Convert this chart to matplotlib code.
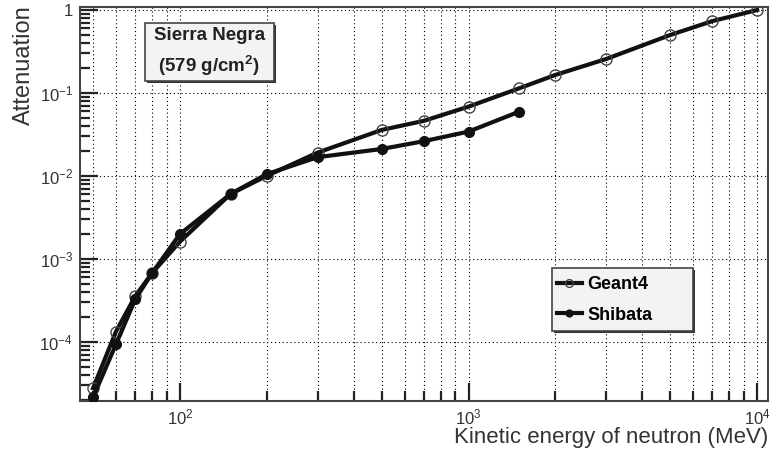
import matplotlib.pyplot as plt
from matplotlib.patches import Rectangle
from matplotlib.ticker import LogLocator, NullFormatter, FixedLocator

plt.rcParams['font.family'] = ['Liberation Sans', 'DejaVu Sans']
plt.rcParams['mathtext.fontset'] = 'custom'
plt.rcParams['mathtext.rm'] = 'Liberation Sans'
plt.rcParams['mathtext.bf'] = 'Liberation Sans:bold'
plt.rcParams['mathtext.default'] = 'regular'

# energia (MeV) y atenuacion
geant4_e = [50, 60, 70, 80, 100, 150, 200, 300, 500, 700, 1000, 1500, 2000, 3000, 5000, 7000, 10000]
geant4_att = [2.75e-5, 1.32e-4, 3.55e-4, 6.7e-4, 1.61e-3, 6.07e-3, 1.0e-2, 1.91e-2, 3.58e-2, 4.61e-2,
              6.84e-2, 0.114, 0.165, 0.257, 0.50, 0.736, 1.0]

shibata_e = [50, 60, 70, 80, 100, 150, 200, 300, 500, 700, 1000, 1500]
shibata_att = [2.13e-5, 9.3e-5, 3.24e-4, 6.7e-4, 1.99e-3, 6.07e-3, 1.05e-2, 1.68e-2, 2.11e-2, 2.62e-2,
               3.42e-2, 5.96e-2]

fig = plt.figure(figsize=(7.78, 4.55), dpi=100)
ax = fig.add_axes([0.1028, 0.1187, 0.8842, 0.8659])

ax.plot(geant4_e, geant4_att, color='#111111', lw=3, marker='o', ms=8,
        mfc='none', mec='#444444', mew=1.0, label='Geant4', zorder=3)
ax.plot(shibata_e, shibata_att, color='#111111', lw=3, marker='o', ms=7,
        mfc='#111111', mec='#111111', label='Shibata', zorder=4)

ax.set_xscale('log')
ax.set_yscale('log')
ax.set_xlim(45.05, 10890)
ax.set_ylim(1.93e-5, 1.087)

# rejilla: x en todas las marcas, y solo en las decadas
xgrid = [m * 10 ** d for d in range(1, 5) for m in range(1, 10)]
xgrid = [v for v in xgrid if 45 < v < 10890]
for v in xgrid:
    ax.axvline(v, color='black', lw=0.8, ls=(0, (1, 2.5)), zorder=1)
for v in [1e-4, 1e-3, 1e-2, 1e-1, 1]:
    ax.axhline(v, color='black', lw=0.8, ls=(0, (1, 2.5)), zorder=1)

ax.yaxis.set_major_locator(FixedLocator([1e-4, 1e-3, 1e-2, 1e-1, 1]))
ax.set_yticklabels([r'$10^{-4}$', r'$10^{-3}$', r'$10^{-2}$', r'$10^{-1}$', '1'])
ax.yaxis.set_minor_locator(LogLocator(base=10, subs=range(2, 10), numticks=20))
ax.yaxis.set_minor_formatter(NullFormatter())
ax.xaxis.set_major_locator(FixedLocator([100, 1000, 10000]))
ax.set_xticklabels([r'$10^{2}$', r'$10^{3}$', r'$10^{4}$'])
ax.xaxis.set_minor_locator(LogLocator(base=10, subs=range(2, 10), numticks=20))
ax.xaxis.set_minor_formatter(NullFormatter())

ax.tick_params(which='both', direction='in', color='#222222', width=1.6, labelsize=12,
               labelcolor='#333333')
ax.tick_params(which='major', length=13)
ax.tick_params(which='minor', length=7)
ax.tick_params(axis='x', pad=5)
ax.tick_params(axis='y', pad=5)
for s in ax.spines.values():
    s.set_linewidth(1.5)
    s.set_color('#444444')

ax.set_ylabel('Attenuation', fontsize=17, color='#333333', loc='top')
ax.yaxis.set_label_coords(-0.065, 1.005)
ax.set_xlabel('Kinetic energy of neutron (MeV)', fontsize=16, color='#333333', loc='right')
ax.xaxis.set_label_coords(1.0, -0.066)

# cajas con sombra al estilo ROOT
dx, dy = 2.0 / 688, 2.0 / 394
for (x0, y0, w, h) in [(0.0945, 0.813, 0.1875, 0.147), (0.686, 0.178, 0.2055, 0.16)]:
    ax.add_patch(Rectangle((x0 + dx, y0 - dy), w, h, transform=ax.transAxes,
                           fc='#333333', ec='none', zorder=5))
    ax.add_patch(Rectangle((x0, y0), w, h, transform=ax.transAxes,
                           fc='#f3f3f3', ec='#444444', lw=1.2, zorder=5.5))

ax.text(0.188, 0.8845, 'Sierra Negra\n(579 g/cm$\\mathbf{^{2}}$)', transform=ax.transAxes,
        ha='center', va='center', fontsize=13.5, fontweight='bold', color='#222222',
        linespacing=1.6, zorder=6)

leg = ax.legend(loc='center left', bbox_to_anchor=(0.693, 0.257), frameon=False,
                handlelength=1.4, handletextpad=0.3, borderpad=0, borderaxespad=0,
                labelspacing=0.75, prop={'weight': 'bold', 'size': 13}, markerscale=0.7)
leg.set_zorder(7)

fig.savefig('out.png', dpi=100)
